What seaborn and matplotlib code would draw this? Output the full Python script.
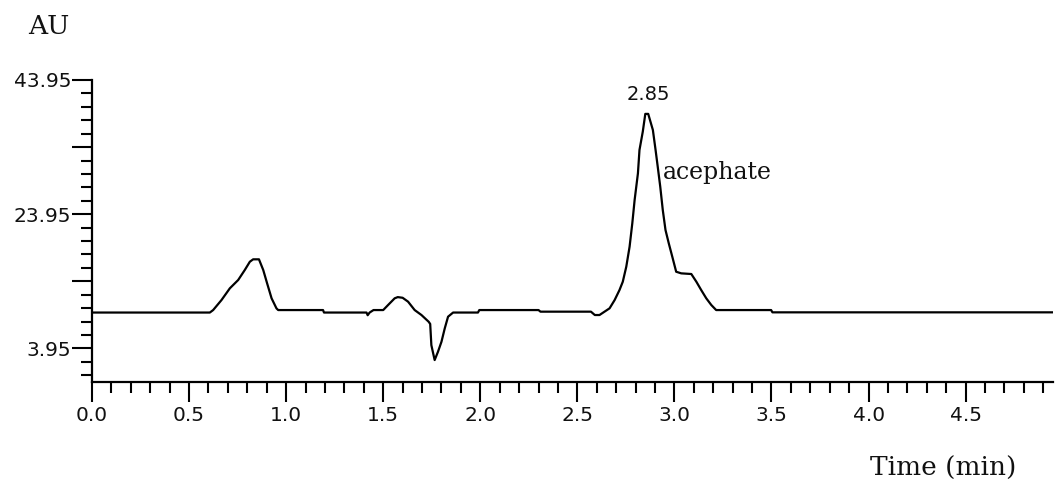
import matplotlib
matplotlib.use("Agg")
import matplotlib.pyplot as plt
from matplotlib.ticker import FixedLocator, FixedFormatter
import pandas as pd
import seaborn as sns

# Chromatogram trace: retention time (min) vs detector response (AU)
time_min = [
    0.000, 0.607, 0.624, 0.667, 0.710, 0.753, 0.787, 0.813, 0.830, 0.860,
    0.882, 0.902, 0.925, 0.950, 0.959, 1.190, 1.195, 1.414, 1.420, 1.430,
    1.450, 1.500, 1.525, 1.559, 1.575, 1.600, 1.628, 1.662, 1.697, 1.734,
    1.742, 1.748, 1.765, 1.782, 1.800, 1.817, 1.834, 1.860, 1.988, 1.995,
    2.300, 2.310, 2.570, 2.590, 2.614, 2.640, 2.666, 2.692, 2.717, 2.734,
    2.752, 2.769, 2.783, 2.795, 2.812, 2.820, 2.837, 2.850, 2.865, 2.889,
    2.903, 2.914, 2.927, 2.940, 2.954, 2.971, 2.989, 3.009, 3.035, 3.087,
    3.113, 3.138, 3.164, 3.190, 3.215, 3.498, 3.505, 4.950,
]
signal_au = [
    9.30, 9.30, 9.67, 11.16, 12.91, 14.15, 15.64, 16.87, 17.23, 17.23,
    15.64, 13.65, 11.42, 9.93, 9.67, 9.67, 9.30, 9.30, 8.90, 9.30,
    9.67, 9.67, 10.42, 11.42, 11.60, 11.50, 10.92, 9.67, 8.93, 7.93,
    7.60, 4.44, 2.22, 3.45, 4.94, 6.94, 8.68, 9.30, 9.30, 9.67,
    9.67, 9.43, 9.43, 8.93, 8.93, 9.43, 9.93, 11.16, 12.65, 13.89,
    16.13, 19.10, 22.59, 26.07, 30.04, 33.52, 36.25, 38.90, 38.90, 36.50,
    33.50, 31.03, 28.05, 24.58, 21.60, 19.60, 17.62, 15.38, 15.14, 15.04,
    13.89, 12.65, 11.42, 10.42, 9.67, 9.67, 9.33, 9.33,
]

# Annotated peak
peak_time = 2.85
peak_name = "acephate"

# Axis ticks
x_major = [0.0, 0.5, 1.0, 1.5, 2.0, 2.5, 3.0, 3.5, 4.0, 4.5]
x_major_labels = ["0.0", "0.5", "1.0", "1.5", "2.0", "2.5", "3.0", "3.5", "4.0", "4.5"]
x_minor = [round(i * 0.1, 1) for i in range(50) if i % 5 != 0]
y_major = [3.95, 13.95, 23.95, 33.95, 43.95]
y_major_labels = ["3.95", "", "23.95", "", "43.95"]
y_minor = [round(-0.05 + 2 * i, 2) for i in range(23) if round(-0.05 + 2 * i, 2) not in y_major]

x_limits = (0.0, 4.95)
y_limits = (-1.05, 43.95)

df = pd.DataFrame({"time": time_min, "au": signal_au})

sns.set_style("ticks")
plt.rcParams["font.family"] = ["DejaVu Sans"]

W, H = 1055, 479
fig = plt.figure(figsize=(W / 100, H / 100), dpi=100)
ax = fig.add_axes([92 / W, 1 - 382 / H, (1053 - 92) / W, (382 - 80) / H])

sns.lineplot(data=df, x="time", y="au", ax=ax, color="black", linewidth=1.6,
             estimator=None, sort=False)

ax.set_xlim(*x_limits)
ax.set_ylim(*y_limits)
ax.set_xlabel("")
ax.set_ylabel("")

for side in ("top", "right"):
    ax.spines[side].set_visible(False)
for side in ("left", "bottom"):
    ax.spines[side].set_linewidth(1.6)
    ax.spines[side].set_color("black")

ax.xaxis.set_major_locator(FixedLocator(x_major))
ax.xaxis.set_major_formatter(FixedFormatter(x_major_labels))
ax.xaxis.set_minor_locator(FixedLocator(x_minor))
ax.yaxis.set_major_locator(FixedLocator(y_major))
ax.yaxis.set_major_formatter(FixedFormatter(y_major_labels))
ax.yaxis.set_minor_locator(FixedLocator(y_minor))

ax.tick_params(axis="both", which="major", direction="out", length=14.4,
               width=1.5, color="black", labelsize=14.5, labelcolor="#111111")
ax.tick_params(axis="both", which="minor", direction="out", length=7.6,
               width=1.5, color="black")
ax.tick_params(axis="y", which="major", pad=0.6)
ax.tick_params(axis="x", which="major", pad=3)

peak_height = max(v for t, v in zip(time_min, signal_au) if abs(t - peak_time) < 0.02)
ax.text(peak_time + 0.017, peak_height + 2.9, f"{peak_time:.2f}", ha="center",
        va="center", fontsize=14, color="#111111")
ax.text(2.939, 30.1, peak_name, ha="left", va="center", fontsize=17,
        family="DejaVu Serif", color="#111111")

fig.text(28 / W, 1 - 26 / H, "AU", ha="left", va="center", fontsize=19,
         family="DejaVu Serif", color="#111111")
fig.text(943 / W, 1 - 476 / H, "Time (min)", ha="center", va="baseline",
         fontsize=19, family="DejaVu Serif", color="#111111")

fig.savefig("out.png", dpi=100, facecolor="white")
